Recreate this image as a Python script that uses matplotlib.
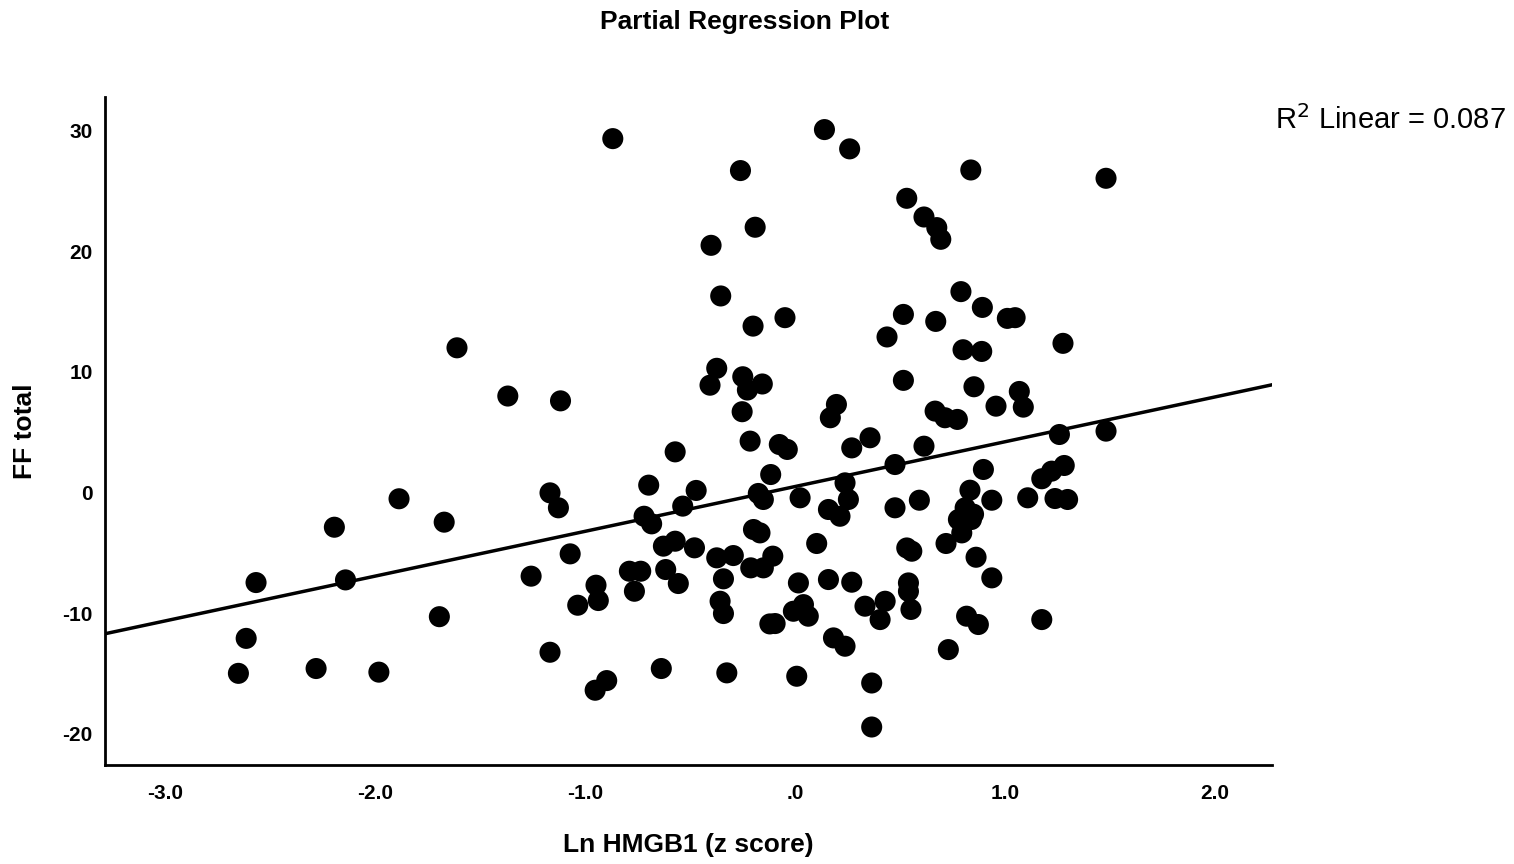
import numpy as np
import matplotlib
matplotlib.use('Agg')
import matplotlib.pyplot as plt

plt.rcParams['font.family'] = ['Liberation Sans', 'DejaVu Sans']
plt.rcParams['axes.unicode_minus'] = False

# partial regression residuals
ln_hmgb1 = [
    -1.61, -0.868, 0.14, 0.26, -0.26, -0.19, -0.40, -0.354, -0.20, -0.048,
    0.438, -0.373, -0.405, -0.249, -0.227, -0.156, -0.252, -1.368, -1.117, 0.197,
    0.168, 0.837, 1.481, 0.532, 0.614, 0.675, 0.694, 0.79, 0.892, 0.516,
    0.67, 1.011, 1.048, 0.80, 0.889, 1.276, 0.516, 0.852, 0.957, 1.068,
    1.087, 0.667, 0.714, 0.773, 1.259, 1.481, -1.886, -2.194, -1.671, -2.567,
    -2.141, -1.694, -2.614, -2.651, -2.281, -1.982, -0.214, -0.075, -0.037, 0.27,
    0.357, -0.571, 0.476, -1.167, -1.127, -0.697, -0.471, -0.535, -0.719, -0.683,
    -0.175, -0.151, -0.116, 0.024, 0.238, 0.254, 0.159, 0.214, 0.476, 0.532,
    0.556, 0.54, 0.54, 0.552, -1.071, -1.257, -0.948, -0.937, -1.035, -0.789,
    -0.735, -0.765, -0.627, -0.571, -0.479, -0.616, -0.556, -0.373, -0.294, -0.341,
    -0.357, -0.341, -0.198, -0.167, -0.211, -0.151, -0.106, 0.103, 0.016, 0.159,
    0.27, -0.008, 0.04, 0.063, -0.095, -0.12, 0.333, 0.429, 0.405, 0.183,
    0.238, -1.167, -0.952, -0.897, -0.637, -0.325, 0.008, 0.365, 0.365, 0.614,
    0.897, 0.833, 0.592, 0.937, 1.108, 1.238, 1.298, 1.175, 1.222, 1.282,
    0.719, 0.862, 0.937, 0.817, 0.873, 1.175, 0.73, 0.81, 0.778, 0.84,
    0.794, 0.85,
]
ff_total = [
    12.0, 29.35, 30.1, 28.5, 26.7, 22.0, 20.5, 16.3, 13.8, 14.5,
    12.9, 10.3, 8.9, 9.6, 8.5, 9.0, 6.7, 8.0, 7.6, 7.3,
    6.2, 26.75, 26.06, 24.4, 22.85, 21.97, 21.0, 16.66, 15.35, 14.77,
    14.19, 14.44, 14.5, 11.84, 11.7, 12.37, 9.3, 8.77, 7.16, 8.38,
    7.08, 6.75, 6.2, 6.06, 4.81, 5.09, -0.52, -2.88, -2.46, -7.47,
    -7.25, -10.3, -12.1, -15.0, -14.6, -14.9, 4.26, 3.98, 3.57, 3.7,
    4.54, 3.37, 2.32, -0.03, -1.27, 0.61, 0.17, -1.13, -1.97, -2.6,
    -0.08, -0.58, 1.49, -0.44, 0.8, -0.58, -1.41, -1.97, -1.27, -4.6,
    -4.87, -7.5, -8.2, -9.7, -5.09, -6.94, -7.69, -8.96, -9.35, -6.53,
    -6.53, -8.19, -4.45, -4.04, -4.59, -6.39, -7.55, -5.42, -5.23, -7.16,
    -9.02, -10.04, -3.07, -3.35, -6.25, -6.25, -5.28, -4.23, -7.5, -7.22,
    -7.44, -9.85, -9.3, -10.26, -10.87, -10.9, -9.43, -9.02, -10.54, -12.06,
    -12.75, -13.25, -16.4, -15.6, -14.6, -14.96, -15.24, -15.8, -19.45, 3.84,
    1.91, 0.19, -0.64, -0.64, -0.44, -0.5, -0.58, 1.14, 1.77, 2.24,
    -4.23, -5.37, -7.08, -10.26, -10.95, -10.54, -13.03, -1.27, -2.24, -2.24,
    -3.35, -1.8,
]

x_ticks = [-3.0, -2.0, -1.0, 0.0, 1.0, 2.0]
x_tick_labels = ['-3.0', '-2.0', '-1.0', '.0', '1.0', '2.0']
y_ticks = [30, 20, 10, 0, -10, -20]
r2_text = 'R$^2$ Linear = 0.087'

x = np.array(ln_hmgb1)
y = np.array(ff_total)

fig = plt.figure(figsize=(15.14, 8.64), dpi=100)
ax = fig.add_axes([0.0694, 0.1146, 0.7707, 0.7731])

ax.scatter(x, y, s=230, color='black', edgecolors='none', zorder=3)

# least squares fit line across the whole axis
xlim = (-3.286, 2.271)
slope, icpt = np.polyfit(x, y, 1)
xs = np.array(xlim)
ax.plot(xs, slope * xs + icpt, color='black', linewidth=2.5, zorder=2)

ax.set_xlim(*xlim)
ax.set_ylim(-22.6, 32.8)
ax.set_xticks(x_ticks)
ax.set_xticklabels(x_tick_labels)
ax.set_yticks(y_ticks)
ax.tick_params(axis='x', length=0, labelsize=15, pad=14)
ax.tick_params(axis='y', length=0, labelsize=15, pad=9)
for lab in ax.get_xticklabels() + ax.get_yticklabels():
    lab.set_fontweight('bold')

for side in ['top', 'right']:
    ax.spines[side].set_visible(False)
for side in ['left', 'bottom']:
    ax.spines[side].set_linewidth(2)
    ax.spines[side].set_color('black')

ax.set_xlabel('Ln HMGB1 (z score)', fontsize=19, fontweight='bold', va='center')
ax.set_ylabel('FF total', fontsize=19, fontweight='bold', va='center')
ax.xaxis.set_label_coords(0.5, -0.12)
ax.yaxis.set_label_coords(-0.0686, 0.50)

fig.text(0.492, 0.9745, 'Partial Regression Plot', fontsize=19, fontweight='bold',
         ha='center', va='center')
fig.text(0.842, 0.861, r2_text, fontsize=21, ha='left', va='center')

fig.savefig('out.png', dpi=100)
